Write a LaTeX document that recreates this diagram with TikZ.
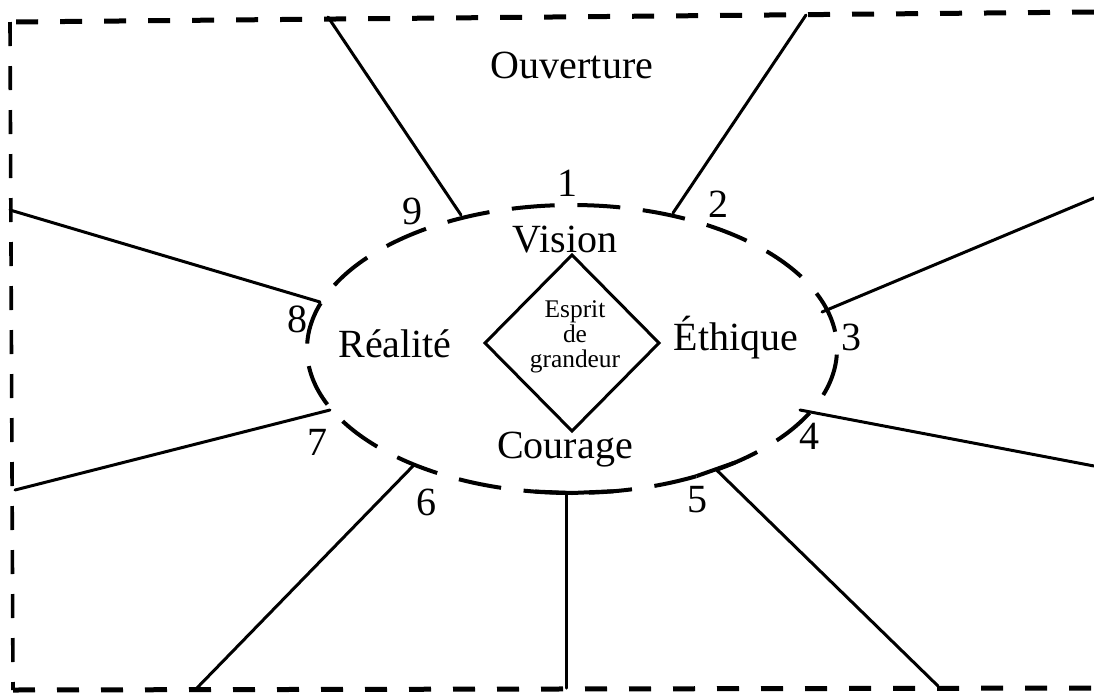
\documentclass[tikz,border=0pt]{standalone}
\usepackage{fontspec}
\setmainfont{Liberation Serif}
\usetikzlibrary{shapes.geometric}
\begin{document}
\begin{tikzpicture}[x=0.5pt,y=-0.5pt,
  lbl/.style={font=\fontsize{20}{24}\selectfont, anchor=base, inner sep=0},
  num/.style={font=\fontsize{20}{24}\selectfont, anchor=base, inner sep=0},
  spoke/.style={line width=1.5pt, line cap=round},
  tbar/.style={line width=2pt},
  borderthick/.style={line width=2.5pt, dash pattern=on 11pt off 11pt},
  borderthin/.style={line width=1.8pt, dash pattern=on 12pt off 10pt},
  ringstyle/.style={ellipse, draw, line width=2pt, minimum width=265pt, minimum height=144pt, inner sep=0, outer sep=0, dash pattern=on 21.5pt off 11.325pt, dash phase=24.125pt},
  diamondbox/.style={diamond, draw, line width=1.5pt, minimum width=87pt, minimum height=88pt, inner sep=0, outer sep=0},
  small/.style={font=\fontsize{12.7}{12.5}\selectfont, align=center, inner sep=0}
]
\useasboundingbox (0,0) rectangle (1094,692);

% outer dashed frame
\draw[borderthick] (1094,12) -- (10,22);
\draw[borderthin] (10,22) -- (13,690);
\draw[borderthick] (13,690) -- (1094,688);

% central ring and diamond
\node[ringstyle] (ring) at (572,349) {};
\node[diamondbox] (D) at (572,343) {};
\node[small] (Dt) at (575,337) {Esprit\\de\\grandeur};

% labels
\node[lbl] (ouv) at (572,78) {Ouverture};
\node[lbl] (vis) at (565,252) {Vision};
\node[lbl] (rea) at (395,357) {Réalité};
\node[lbl] (eth) at (736,350) {Éthique};
\node[lbl] (cou) at (565,458) {Courage};

% numbers
\node[num] (n1) at (567,196) {1};
\node[num] (n2) at (718,217) {2};
\node[num] (n3) at (851,350) {3};
\node[num] (n4) at (809,449) {4};
\node[num] (n5) at (697,512) {5};
\node[num] (n6) at (426,515) {6};
\node[num] (n7) at (317,455) {7};
\node[num] (n8) at (297,332) {8};
\node[num] (n9) at (412,224) {9};

% spoke endpoints
\coordinate (o9) at (328,17);   \coordinate (e9) at (461,215);
\coordinate (o2) at (806,15);   \coordinate (e2) at (673,213);
\coordinate (o3) at (1094,198); \coordinate (e3) at (822,312);
\coordinate (o4) at (1094,466); \coordinate (e4) at (800,410);
\coordinate (o5) at (938,686);  \coordinate (e5) at ({572+265*cos(303)},{349-144*sin(303)});
\coordinate (ob) at (566,688);  \coordinate (eb) at (566,493);
\coordinate (o6) at (195,690);  \coordinate (e6) at (413,466);
\coordinate (o7) at (15,490);   \coordinate (e7) at (330,410);
\coordinate (o8) at (10,210);   \coordinate (e8) at (320,302);

\foreach \k in {9,2,3,4,5,b,6,7,8} {
  \draw[spoke] (o\k) -- (e\k);
}

% T-bars not covered by ring dashes (chords lying on the ring)
\coordinate (b5a) at ({572+265*cos(298)},{349-144*sin(298)});
\coordinate (b5b) at ({572+265*cos(308)},{349-144*sin(308)});
\coordinate (bba) at ({572+265*cos(262)},{349-144*sin(262)});
\coordinate (bbm) at ({572+265*cos(270)},{349-144*sin(270)});
\coordinate (bbb) at ({572+265*cos(279)},{349-144*sin(279)});
\draw[tbar] (b5a) -- (b5b);
\draw[tbar] (bba) -- (bbm) -- (bbb);
\end{tikzpicture}
\end{document}
